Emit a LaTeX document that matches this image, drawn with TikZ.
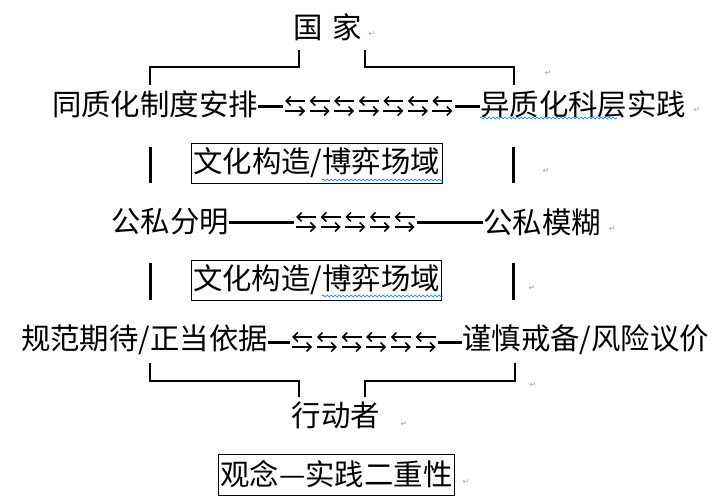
\documentclass[tikz,border=0pt]{standalone}
\usepackage{fontspec}
\setmainfont{Noto Sans CJK SC}
\newfontfamily\symfont{DejaVu Sans}
\usetikzlibrary{arrows.meta,decorations.pathmorphing,calc}
\begin{document}
\begin{tikzpicture}[x=1pt,y=-1pt,
  txt/.style={inner sep=0pt, font=\fontsize{29.4}{30}\selectfont},
  boxed/.style={txt, draw, line width=1pt, inner xsep=2pt, minimum height=40pt},
  bar/.style={line width=3pt},
  brk/.style={line width=2.6pt},
  arrbox/.style={inner sep=0pt, minimum height=20pt},
  harr/.style={line width=1.6pt, -{Straight Barb[length=4.5pt,width=9pt]}},
  pmark/.style={inner sep=0pt, font=\symfont\fontsize{8}{8}\selectfont, text=gray!70},
  wavy/.style={draw=blue!55!cyan, line width=0.6pt, decorate,
    decoration={snake,segment length=4pt,amplitude=1pt}}
]
\useasboundingbox (0,0) rectangle (723,501);

% top
\node[txt] (guo) at (327.5,27) {国\hspace{10pt}家};
\node[pmark] (pm0) at (372,34) {↵};
\draw[brk] (150,85) -- (150,67) -- (299,67) -- (299,50);
\draw[brk] (365,50) -- (365,67) -- (514,67) -- (514,85);
\node[pmark] (pm1) at (548,73) {↵};

% row 1
\node[txt, anchor=east] (r1l) at (258,104) {同质化制度安排};
\node[txt, anchor=west] (r1r) at (480,104) {异质化科层实践};
\node[arrbox, minimum width=172pt] (a1) at (369,106) {};
\draw[bar] ([yshift=-2pt]r1l.east) -- (a1.west);
\draw[bar] (a1.east) -- ([yshift=-2pt]r1r.west);
\foreach \i in {1,...,7}{
  \draw[harr] ($(a1.west)+(\i*24.57-2.3,-5)$) -- ++(-20,0);
  \draw[harr] ($(a1.west)+(\i*24.57-22.3,5)$) -- ++(20,0);
}
\draw[wavy] (480,118) -- (617,118);
\node[pmark] (pm2) at (697,110) {↵};

% row 2
\draw[bar] (150,147) -- (150,183);
\draw[bar] (513,147) -- (513,183);
\node[boxed] (b1) at (316.75,163) {文化构造/博弈场域};
\draw[wavy] (322,180) -- (443,180);
\node[pmark] (pm3) at (546,171) {↵};

% row 3
\node[txt, anchor=east] (r3l) at (229,222) {公私分明};
\node[txt, anchor=west] (r3r) at (483,222) {公私模糊};
\node[arrbox, minimum width=123pt] (a3) at (355.5,222) {};
\draw[bar] (r3l.east) -- (a3.west);
\draw[bar] (a3.east) -- (r3r.west);
\foreach \i in {1,...,5}{
  \draw[harr] ($(a3.west)+(\i*24.6-2.3,-5)$) -- ++(-20,0);
  \draw[harr] ($(a3.west)+(\i*24.6-22.3,5)$) -- ++(20,0);
}
\node[pmark] (pm4) at (612,229) {↵};

% row 4
\draw[bar] (150,263) -- (150,300);
\draw[bar] (513,263) -- (513,300);
\node[boxed] (b2) at (316.5,280) {文化构造/博弈场域};
\draw[wavy] (322,296) -- (443,296);
\node[pmark] (pm5) at (532,288) {↵};

% row 5
\node[txt, anchor=east] (r5l) at (268,340) {规范期待/正当依据};
\node[txt, anchor=west] (r5r) at (462,340) {谨慎戒备/风险议价};
\node[arrbox, minimum width=148pt] (a5) at (364,342) {};
\draw[bar] ([yshift=-2pt]r5l.east) -- (a5.west);
\draw[bar] (a5.east) -- ([yshift=-2pt]r5r.west);
\foreach \i in {1,...,6}{
  \draw[harr] ($(a5.west)+(\i*24.67-2.3,-5)$) -- ++(-20,0);
  \draw[harr] ($(a5.west)+(\i*24.67-22.3,5)$) -- ++(20,0);
}

% bottom
\draw[brk] (150,363) -- (150,381) -- (299,381) -- (299,397);
\draw[brk] (365,397) -- (365,381) -- (515,381) -- (515,363);
\node[pmark] (pm6) at (533,385) {↵};
\node[txt] (xdz) at (336,415) {行动者};
\node[pmark] (pm7) at (404,424) {↵};

\node[boxed, minimum height=41pt] (b3) at (336.5,474.5) {观念—实践二重性};
\node[pmark] (pm8) at (466,482) {↵};
\end{tikzpicture}
\end{document}
